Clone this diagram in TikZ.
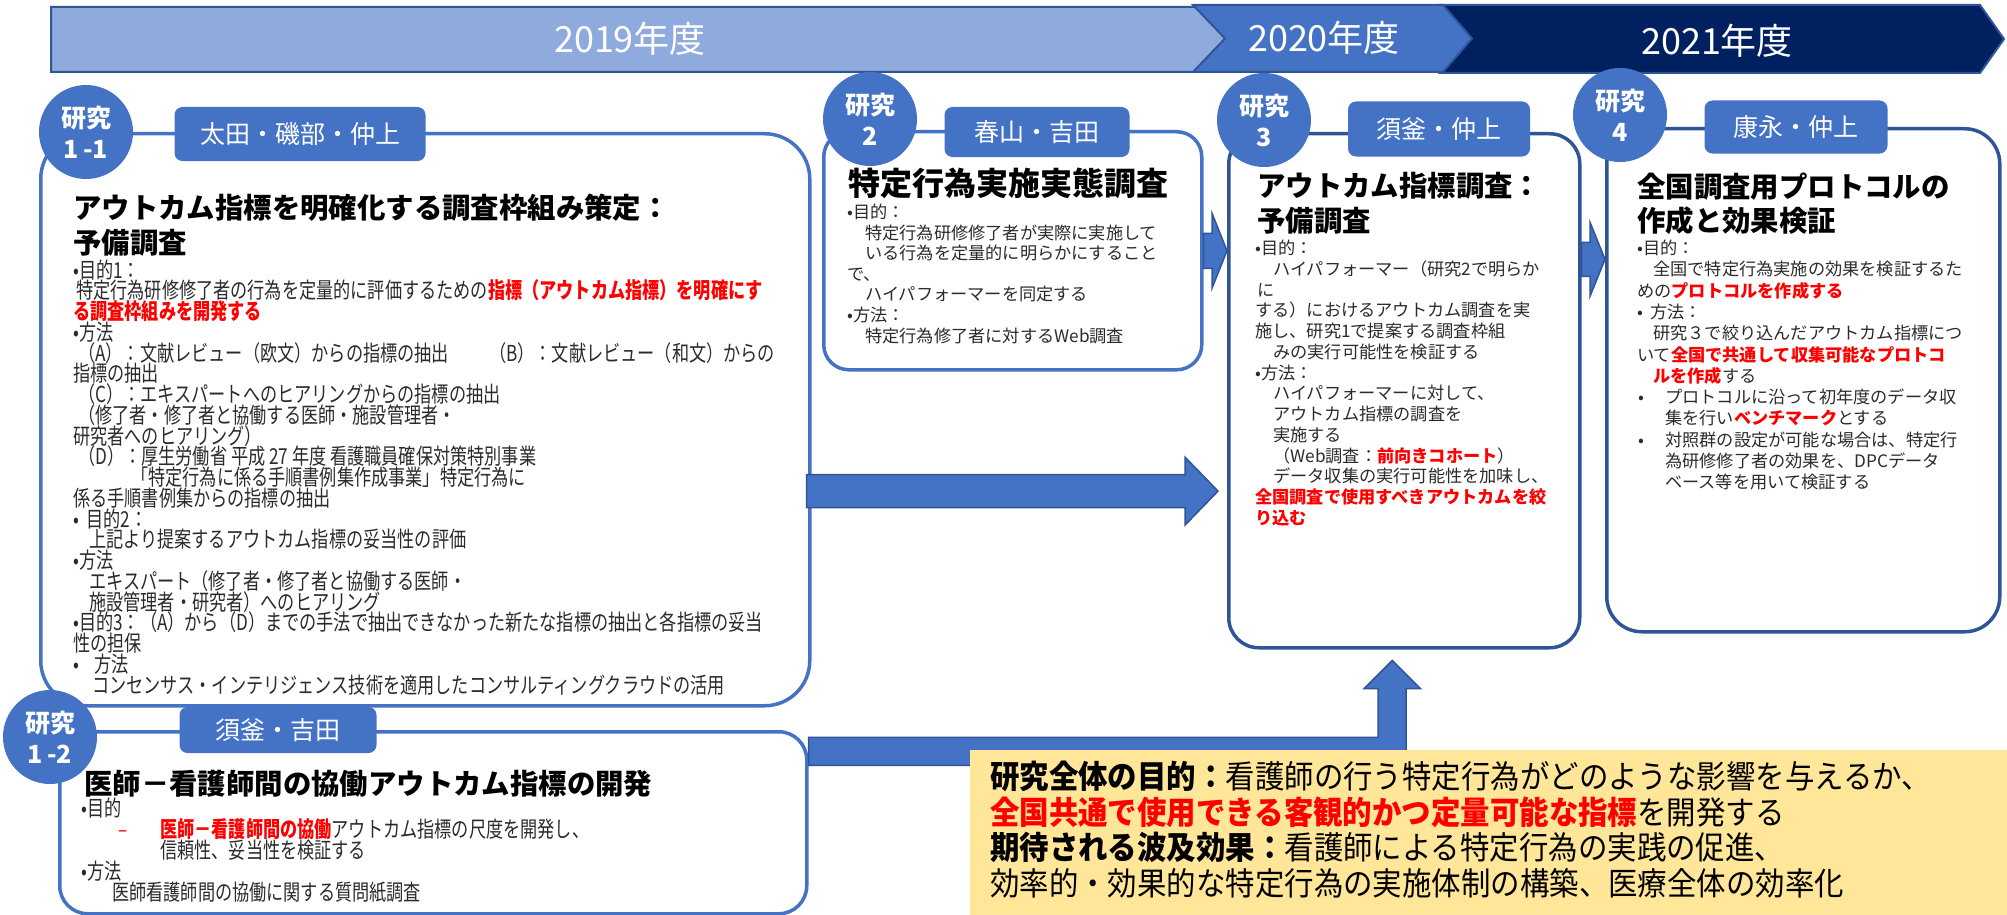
\documentclass[tikz,border=0pt]{standalone}
\usepackage{fontspec}
\setmainfont{Noto Sans CJK JP}
\newfontfamily\condf[FakeStretch=0.78]{Noto Sans CJK JP}
\newfontfamily\yelf[FakeStretch=0.92]{Noto Sans CJK JP}
\usetikzlibrary{calc}
\definecolor{lblue}{HTML}{8FAADC}
\definecolor{mblue}{HTML}{4472C4}
\definecolor{dblue}{HTML}{2F5597}
\definecolor{navy}{HTML}{002060}
\definecolor{yel}{HTML}{FFE699}
\definecolor{txt}{HTML}{2B2B2B}
\newcommand\redb[1]{{\color{red}\bfseries #1}}
\newcommand\harrow[5]{%
  \draw[barrow] let \p1=(#1), \p2=(#2) in
   (\x1,\y1+#3pt) -- (\x2-#5pt,\y1+#3pt) -- (\x2-#5pt,\y1+#4pt) -- (\x2,\y1)
   -- (\x2-#5pt,\y1-#4pt) -- (\x2-#5pt,\y1-#3pt) -- (\x1,\y1-#3pt) -- cycle;}
\tikzset{
  bannertext/.style={text=white, inner sep=0pt, font=\fontsize{36}{40}\selectfont},
  box/.style={draw, fill=white, line width=3.5pt, anchor=north west, inner sep=0pt},
  circ/.style={circle, fill=mblue, minimum size=94pt, inner sep=0pt, text=white, align=center,
    font=\bfseries\fontsize{25}{31}\selectfont},
  tab/.style={fill=mblue, rounded corners=8pt, inner sep=0pt, text=white,
    font=\fontsize{25}{30}\selectfont},
  barrow/.style={fill=mblue, draw=dblue, line width=1.5pt},
  t11/.style={anchor=base west, inner sep=0pt, text=txt, font=\condf\fontsize{22}{22}\selectfont},
  ttl/.style={anchor=base west, inner sep=0pt, text=black, font=\bfseries\fontsize{28.4}{30}\selectfont},
  tw/.style={anchor=base west, inner sep=0pt, text=txt, font=\fontsize{17.2}{20}\selectfont},
  ty/.style={anchor=base west, inner sep=0pt, text=black, font=\yelf\fontsize{32}{34}\selectfont},
}
\begin{document}
\begin{tikzpicture}[x=1pt,y=-1pt]
\useasboundingbox (0,0) rectangle (2007,915);
% ---------------- banner
\path[fill=lblue, draw=dblue, line width=2pt] (51,7) -- (1212,7) -- (1240,39) -- (1212,72) -- (51,72) -- cycle;
\path[fill=navy, draw=dblue, line width=2pt] (1440,5) -- (1980,5) -- (2004,39) -- (1980,73) -- (1440,73) -- (1470,39) -- cycle;
\path[fill=mblue, draw=dblue, line width=2pt] (1193,5) -- (1443,5) -- (1472,38.5) -- (1443,72) -- (1193,72) -- (1225,38.5) -- cycle;
\node[bannertext] (y19) at (630,39) {2019年度};
\node[bannertext] (y20) at (1324,38) {2020年度};
\node[bannertext] (y21) at (1717,41) {2021年度};
% ---------------- boxes
\node[box, draw=mblue, rounded corners=45pt, minimum width=769pt, minimum height=572pt] (b11) at (39,132) {};
\node[box, draw=mblue, rounded corners=28pt, minimum width=747pt, minimum height=182pt] (b12) at (58,730) {};
\node[box, draw=mblue, rounded corners=25pt, minimum width=378pt, minimum height=238pt] (b2) at (822,130) {};
\node[box, draw=dblue, rounded corners=30pt, minimum width=351pt, minimum height=514pt] (b3) at (1227,132) {};
\node[box, draw=dblue, rounded corners=35pt, minimum width=393pt, minimum height=503pt] (b4) at (1605,127) {};
% ---------------- block arrows
\harrow{b2.east}{b3.west}{17.5}{37.5}{15}
\harrow{$(b3.north east)!0.246!(b3.south east)$}{b4.west}{17}{37}{15}
\harrow{$(b11.north east)!0.624!(b11.south east)+(-5,0)$}{$(b3.west)+(-9,0)$}{16.5}{34}{33}
\draw[barrow] let \p1=($(b12.north east)!0.115!(b12.south east)$),
                  \p2=($(b3.south west)!0.466!(b3.south east)+(0,11)$) in
  (\x1,\y1+14pt) -- (\x2-14pt,\y1+14pt) -- (\x2-14pt,\y2-28pt) -- (\x2-28pt,\y2-28pt) -- (\x2,\y2)
  -- (\x2+28pt,\y2-28pt) -- (\x2+14pt,\y2-28pt) -- (\x2+14pt,\y1-14pt) -- (\x1,\y1-14pt) -- cycle;
% ---------------- circles and name tabs
\node[circ] (c11) at (86,132) {研究\\1\,-1};
\node[tab, minimum width=251pt, minimum height=54pt] (n11) at (300,134) {太田・磯部・仲上};
\node[circ] (c12) at (50,737) {研究\\1\,-2};
\node[tab, minimum width=197pt, minimum height=46pt] (n12) at (278,730) {須釜・吉田};
\node[circ] (c2) at (870,119) {研究\\2};
\node[tab, minimum width=185pt, minimum height=50pt] (n2) at (1037,132) {春山・吉田};
\node[circ] (c3) at (1264,120) {研究\\3};
\node[tab, minimum width=182pt, minimum height=55pt] (n3) at (1439,129) {須釜・仲上};
\node[circ] (c4) at (1620,115) {研究\\4};
\node[tab, minimum width=183pt, minimum height=53pt] (n4) at (1796,127) {康永・仲上};
% ---------------- study 1-1
\node[ttl] (h11a) at (73,218) {アウトカム指標を明確化する調査枠組み策定：};
\node[ttl] (h11b) at (73,253) {予備調査};
\node[t11] (l11a) at (73,278) {•目的1：};
\node[t11] (l11b) at (76,298.75) {特定行為研修修了者の行為を定量的に評価するための\redb{指標（アウトカム指標）を明確にす}};
\node[t11] (l11c) at (73,319.5) {\redb{る調査枠組みを開発する}};
\node[t11] (l11d) at (73,340.25) {•方法};
\node[t11] (l11e) at (78,361) {（A）：文献レビュー（欧文）からの指標の抽出};
\node[t11] (l11f) at (489,361) {（B）：文献レビュー（和文）からの};
\node[t11] (l11g) at (73,381.75) {指標の抽出};
\node[t11] (l11h) at (78,402.5) {（C）：エキスパートへのヒアリングからの指標の抽出};
\node[t11] (l11i) at (78,423.25) {（修了者・修了者と協働する医師・施設管理者・};
\node[t11] (l11j) at (73,444) {研究者へのヒアリング）};
\node[t11] (l11k) at (78,464.75) {（D）：厚生労働省 平成 27 年度 看護職員確保対策特別事業};
\node[t11] (l11l) at (131,485.5) {「特定行為に係る手順書例集作成事業」特定行為に};
\node[t11] (l11m) at (73,506.25) {係る手順書例集からの指標の抽出};
\node[t11] (l11n) at (73,527) {\makebox[13pt][l]{•}目的2：};
\node[t11] (l11o) at (89,547.75) {上記より提案するアウトカム指標の妥当性の評価};
\node[t11] (l11p) at (73,568.5) {•方法};
\node[t11] (l11q) at (89,589.25) {エキスパート（修了者・修了者と協働する医師・};
\node[t11] (l11r) at (89,610) {施設管理者・研究者）へのヒアリング};
\node[t11] (l11s) at (73,630.75) {•目的3：（A）から（D）までの手法で抽出できなかった新たな指標の抽出と各指標の妥当};
\node[t11] (l11t) at (73,651.5) {性の担保};
\node[t11] (l11u) at (73,672.25) {\makebox[21pt][l]{•}方法};
\node[t11] (l11v) at (92,693) {コンセンサス・インテリジェンス技術を適用したコンサルティングクラウドの活用};
% ---------------- study 1-2
\node[ttl] (h12) at (84,794) {医師－看護師間の協働アウトカム指標の開発};
\node[t11] (l12a) at (81,816) {•目的};
\node[t11, text=red] (l12b) at (118,837) {–};
\node[t11] (l12c) at (160,837) {\redb{医師－看護師間の協働}アウトカム指標の尺度を開発し、};
\node[t11] (l12d) at (160,858) {信頼性、妥当性を検証する};
\node[t11] (l12e) at (81,879) {•方法};
\node[t11] (l12f) at (112,900) {医師看護師間の協働に関する質問紙調査};
% ---------------- study 2
\node[ttl, font=\bfseries\fontsize{32}{34}\selectfont] (h2) at (848,195) {特定行為実施実態調査};
\node[tw] (l2a) at (847,218.5) {•目的：};
\node[tw] (l2b) at (865,239.1) {特定行為研修修了者が実際に実施して};
\node[tw] (l2c) at (865,259.7) {いる行為を定量的に明らかにすること};
\node[tw] (l2d) at (847,280.3) {で、};
\node[tw] (l2e) at (865,300.9) {ハイパフォーマーを同定する};
\node[tw] (l2f) at (847,321.5) {•方法：};
\node[tw] (l2g) at (865,342.1) {特定行為修了者に対するWeb調査};
% ---------------- study 3
\node[ttl] (h3a) at (1257,196) {アウトカム指標調査：};
\node[ttl] (h3b) at (1257,231) {予備調査};
\node[tw] (l3a) at (1255,254.5) {•目的：};
\node[tw] (l3b) at (1273,275.25) {ハイパフォーマー（研究2で明らか};
\node[tw] (l3c) at (1257,296) {に};
\node[tw] (l3d) at (1255,316.75) {する）におけるアウトカム調査を実};
\node[tw] (l3e) at (1255,337.5) {施し、研究1で提案する調査枠組};
\node[tw] (l3f) at (1273,358.25) {みの実行可能性を検証する};
\node[tw] (l3g) at (1255,379) {•方法：};
\node[tw] (l3h) at (1273,399.75) {ハイパフォーマーに対して、};
\node[tw] (l3i) at (1273,420.5) {アウトカム指標の調査を};
\node[tw] (l3j) at (1273,441.25) {実施する};
\node[tw] (l3k) at (1273,462) {（Web調査：\redb{前向きコホート}）};
\node[tw] (l3l) at (1273,482.75) {データ収集の実行可能性を加味し、};
\node[tw] (l3m) at (1255,503.5) {\redb{全国調査で使用すべきアウトカムを絞}};
\node[tw] (l3n) at (1255,524.25) {\redb{り込む}};
% ---------------- study 4
\node[ttl] (h4a) at (1637,197) {全国調査用プロトコルの};
\node[ttl] (h4b) at (1637,231) {作成と効果検証};
\node[tw] (l4a) at (1637,254.5) {•目的：};
\node[tw] (l4b) at (1653,275.8) {全国で特定行為実施の効果を検証するた};
\node[tw] (l4c) at (1637,297.1) {めの\redb{プロトコルを作成する}};
\node[tw] (l4d) at (1637,318.4) {\makebox[13pt][l]{•}方法：};
\node[tw] (l4e) at (1653,339.7) {研究３で絞り込んだアウトカム指標につ};
\node[tw] (l4f) at (1637,361) {いて\redb{全国で共通して収集可能なプロトコ}};
\node[tw] (l4g) at (1653,382.3) {\redb{ルを作成}する};
\node[tw] (l4h) at (1638,403.6) {\makebox[27pt][l]{•}プロトコルに沿って初年度のデータ収};
\node[tw] (l4i) at (1665,424.9) {集を行い\redb{ベンチマーク}とする};
\node[tw] (l4j) at (1638,446.2) {\makebox[27pt][l]{•}対照群の設定が可能な場合は、特定行};
\node[tw] (l4k) at (1665,467.5) {為研修修了者の効果を、DPCデータ};
\node[tw] (l4l) at (1665,488.8) {ベース等を用いて検証する};
% ---------------- overall goal
\node[fill=yel, minimum width=1037pt, minimum height=165pt, anchor=north west, inner sep=0pt] (goal) at (970,750) {};
\node[ty] (g1) at (990,788) {\textbf{研究全体の目的：}看護師の行う特定行為がどのような影響を与えるか、};
\node[ty] (g2) at (990,824) {\redb{全国共通で使用できる客観的かつ定量可能な指標}を開発する};
\node[ty] (g3) at (990,859) {\textbf{期待される波及効果：}看護師による特定行為の実践の促進、};
\node[ty] (g4) at (990,895) {効率的・効果的な特定行為の実施体制の構築、医療全体の効率化};
\end{tikzpicture}
\end{document}
